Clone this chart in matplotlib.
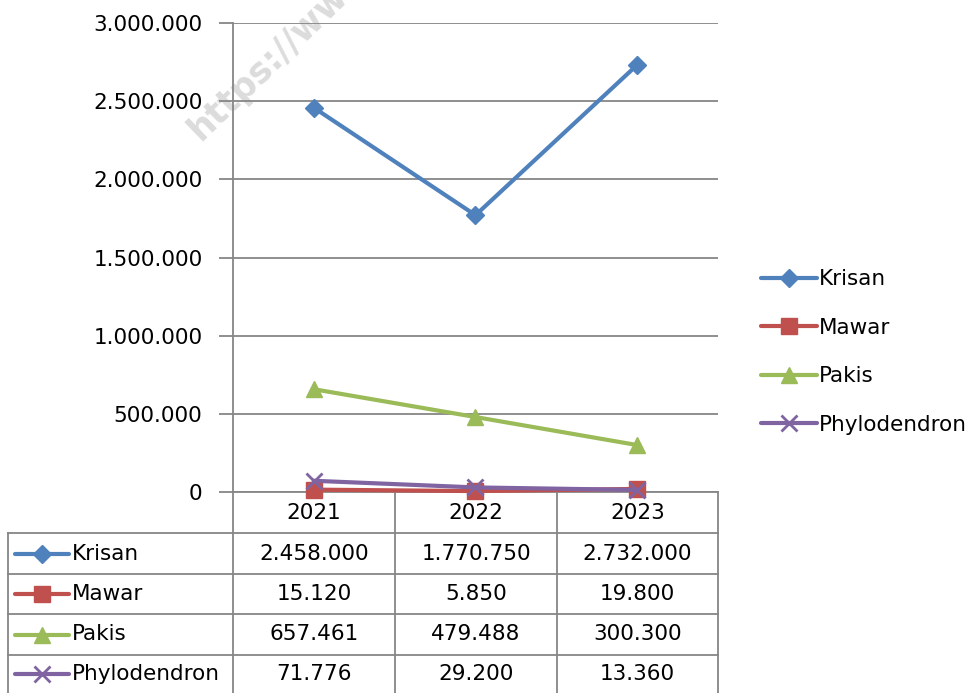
import matplotlib.pyplot as plt
from matplotlib.lines import Line2D
from matplotlib.ticker import FuncFormatter, MultipleLocator

# data
years = ["2021", "2022", "2023"]
series_names = ["Krisan", "Mawar", "Pakis", "Phylodendron"]
krisan = [2458000, 1770750, 2732000]
mawar = [15120, 5850, 19800]
pakis = [657461, 479488, 300300]
phylodendron = [71776, 29200, 13360]

colors = ["#4F81BD", "#C0504D", "#9BBB59", "#8064A2"]
markers = ["D", "s", "^", "x"]
msizes = [9, 11, 11, 11]
GRID = "#868686"
FS = 15.5


def dots(v):
    return f"{v:,.0f}".replace(",", ".")


W, H = 978, 693
fig = plt.figure(figsize=(W / 100, H / 100), dpi=100)
plt.rcParams['font.family'] = ['DejaVu Sans']

# overlay in pixel coordinates for the data table
tab = fig.add_axes([0, 0, 1, 1], zorder=0)
tab.set_xlim(0, W)
tab.set_ylim(H, 0)
tab.axis("off")

# watermark (cut off at the top edge, as in the source)
tab.text(200, 142, "https://www", rotation=44, rotation_mode="anchor",
         fontsize=25, fontweight="bold", color="#dcdcdc",
         ha="left", va="baseline", zorder=0)

x0, x1 = 233, 718
ax = fig.add_axes([x0 / W, 1 - 492 / H, (x1 - x0) / W, (492 - 23) / H], zorder=1)
ax.patch.set_alpha(0)

data = [krisan, mawar, pakis, phylodendron]
xs = list(range(len(years)))
for name, vals, c, m, ms in zip(series_names, data, colors, markers, msizes):
    ax.plot(xs, vals, color=c, lw=3, marker=m, ms=ms, mew=2 if m == "x" else 1,
            mec=c, mfc=c, label=name, clip_on=False, zorder=3)

ax.set_xlim(-0.5, len(years) - 0.5)
ax.set_ylim(0, 3000000)
ax.yaxis.set_major_locator(MultipleLocator(500000))
ax.yaxis.set_major_formatter(FuncFormatter(lambda v, p: dots(v)))
ax.grid(axis="y", color=GRID, lw=1.3)
ax.set_axisbelow(True)
for s in ["top", "right"]:
    ax.spines[s].set_visible(False)
ax.spines["left"].set_color(GRID)
ax.spines["bottom"].set_color(GRID)
ax.spines["left"].set_linewidth(1.3)
ax.spines["bottom"].set_linewidth(1.3)
ax.tick_params(axis="y", length=10, width=1.3, color=GRID, labelsize=FS, pad=12)
ax.set_xticks([])

# data table
col_edges = [233, 395, 557, 718]
row_edges = [533, 574, 614, 655, 693]
for xe in col_edges:
    tab.plot([xe, xe], [492, H], color=GRID, lw=1.3)
tab.plot([8, 8], [533, H], color=GRID, lw=1.3)
for ye in row_edges[:-1]:
    tab.plot([8, 718], [ye, ye], color=GRID, lw=1.3)

centers = [(col_edges[i] + col_edges[i + 1]) / 2 for i in range(len(years))]
for cx, yr in zip(centers, years):
    tab.text(cx, 513, yr, ha="center", va="center", fontsize=FS)

for r, (name, vals, c, m, ms) in enumerate(zip(series_names, data, colors, markers, msizes)):
    cy = (row_edges[r] + row_edges[r + 1]) / 2
    tab.plot([15, 69], [cy, cy], color=c, lw=3, solid_capstyle="round")
    tab.plot([42], [cy], color=c, marker=m, ms=ms, mew=2 if m == "x" else 1, mec=c, mfc=c)
    tab.text(72, cy, name, ha="left", va="center", fontsize=FS)
    for cx, v in zip(centers, vals):
        tab.text(cx, cy, dots(v), ha="center", va="center", fontsize=FS)

# legend on the right
handles = [Line2D([], [], color=c, lw=3, marker=m, ms=ms, mew=2 if m == "x" else 1,
                  mec=c, mfc=c, solid_capstyle="round")
           for c, m, ms in zip(colors, markers, msizes)]
fig.legend(handles, series_names, loc="center left", bbox_to_anchor=(752 / W, 1 - 352 / H),
           frameon=False, fontsize=FS, handlelength=2.6, handletextpad=0.1,
           labelspacing=1.32, borderaxespad=0)

fig.savefig("out.png", dpi=100)
